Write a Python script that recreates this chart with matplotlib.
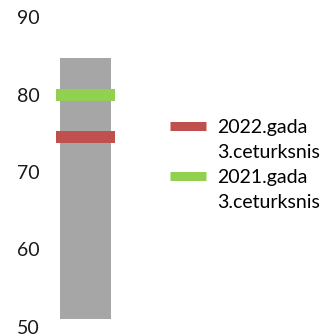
import matplotlib.pyplot as plt
from matplotlib.lines import Line2D

# range of values (min..max) and the two quarter values
range_low = 51.0
range_high = 84.7
labels = ['2022.gada\n3.ceturksnis', '2021.gada\n3.ceturksnis']
values = [74.5, 80.0]
colors = ['#C0504D', '#92D050']
yticks = [50, 60, 70, 80, 90]

plt.rcParams['font.family'] = ['Lato', 'DejaVu Sans']

W, H = 333, 335
fig = plt.figure(figsize=(W / 100, H / 100), dpi=100)
ax = fig.add_axes([45 / W, 8 / H, 81 / W, 310 / H])

ax.bar(0, range_high - range_low, bottom=range_low, width=0.63,
       color='#A6A6A6', zorder=1)
for lab, v, c in zip(labels, values, colors):
    ax.hlines(v, -0.37, 0.36, colors=c, linewidth=8.6, zorder=2)

ax.set_xlim(-0.5, 0.5)
ax.set_ylim(50, 90)
ax.set_yticks(yticks)
ax.set_yticklabels([str(t) for t in yticks], fontsize=14, color='#1a1a1a')
ax.tick_params(axis='y', length=0, pad=4)
ax.set_xticks([])
for s in ax.spines.values():
    s.set_visible(False)

# legend: coloured key on the first line of each label, blank key on the second
handles, texts = [], []
for lab, c in zip(labels, colors):
    first, second = lab.split('\n')
    handles += [Line2D([], [], color=c, linewidth=6.5, solid_capstyle='butt'),
                Line2D([], [], color='none')]
    texts += [first, second]
fig.legend(handles, texts, loc='upper left',
           bbox_to_anchor=(162 / W, 1 - 111 / H),
           frameon=False, fontsize=14, handlelength=1.85, handletextpad=0.6,
           labelspacing=0.42, borderaxespad=0)

fig.savefig('out.png', dpi=100)
